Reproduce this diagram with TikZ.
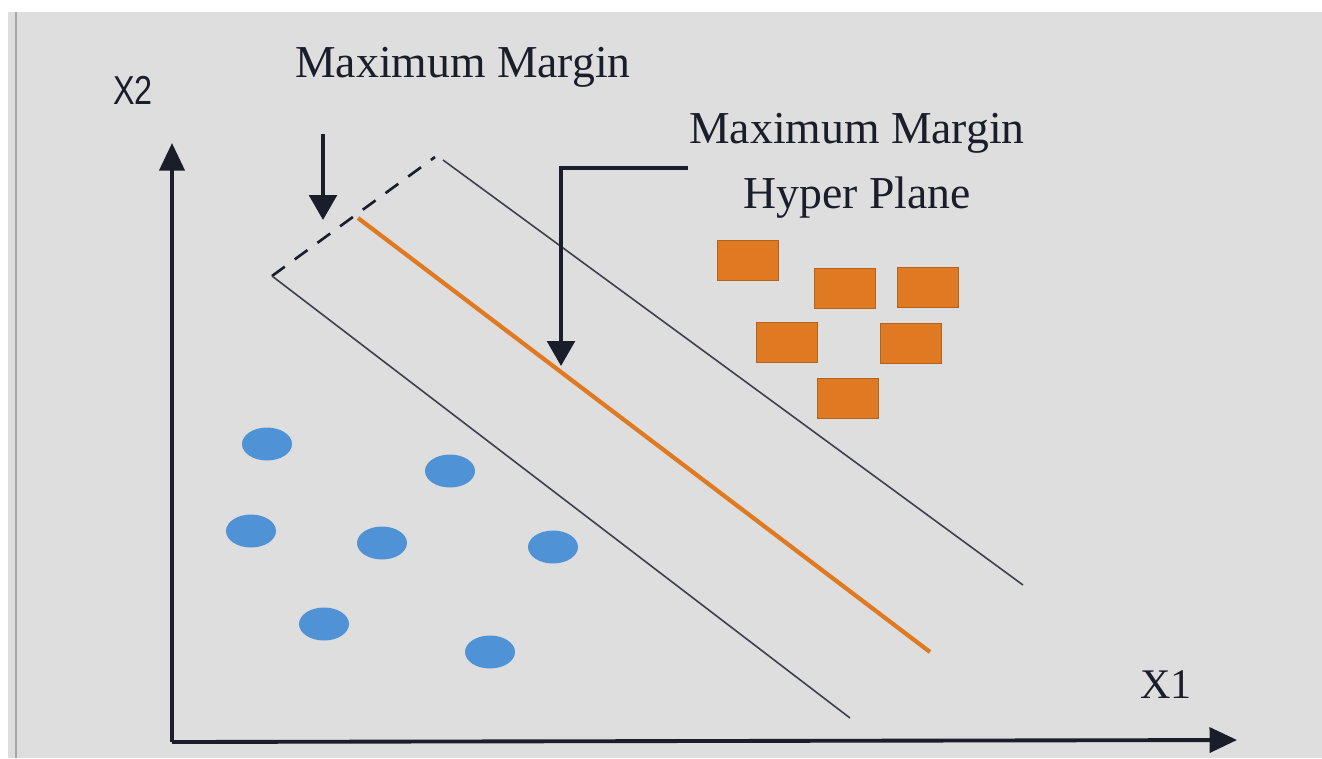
\documentclass[tikz,border=0pt]{standalone}
\usepackage{fontspec}
\setmainfont{Liberation Serif}
\newfontfamily\axfont{Liberation Sans}
\usetikzlibrary{arrows.meta,shapes.geometric}
\definecolor{bg}{HTML}{DEDEDE}
\definecolor{ink}{HTML}{1A1E2A}
\definecolor{org}{HTML}{E07A22}
\definecolor{blu}{HTML}{4F93D6}
\begin{document}
\begin{tikzpicture}[x=0.02cm,y=-0.02cm,
  sq/.style={draw=org!80!black, line width=0.4pt, fill=org, minimum width=1.22cm, minimum height=0.8cm, inner sep=0pt},
  dot/.style={ellipse, fill=blu, minimum width=1.0cm, minimum height=0.66cm, inner sep=0pt},
  lab/.style={font=\fontsize{26}{30}\selectfont, text=ink, inner sep=0pt},
  axis/.style={ink, line width=2.2pt, -{Triangle[length=0.55cm,width=0.5cm]}},
  marg/.style={ink!85, line width=0.9pt},
  pointer/.style={ink, line width=2.4pt, -{Triangle[length=0.5cm,width=0.55cm]}}]
% background
\fill[white] (0,0) rectangle (1322,758);
\fill[bg] (8,12) rectangle (1322,758);
\draw[gray!70, line width=0.8pt] (16,12) -- (16,758);
\useasboundingbox (0,0) rectangle (1322,758);
% axes
\coordinate (O) at (172,742);
\coordinate (Ytop) at (172,143);
\coordinate (Xend) at (1237,740);
\draw[axis] (O) -- (Ytop);
\draw[axis] (O) -- (Xend);
\node[font=\axfont\fontsize{23}{26}\selectfont, text=ink, xscale=0.8, inner sep=0pt] (x2) at (133,90) {X2};
\node[lab, font=\fontsize{24}{28}\selectfont] (x1) at (1166,685) {X1};
% margins
\coordinate (dA) at (272,276);
\coordinate (dB) at (435,157);
\coordinate (lowEnd) at (850,718);
\coordinate (upStart) at (443,160);
\coordinate (upEnd) at (1023,585);
\coordinate (hpA) at (358,218);
\coordinate (hpB) at (930,652);
\draw[ink, line width=1.5pt, dash pattern=on 9pt off 7pt] (dA) -- (dB);
\draw[marg] (dA) -- (lowEnd);
\draw[marg] (upStart) -- (upEnd);
\draw[org, line width=2.4pt] (hpA) -- (hpB);
% labels
\node[lab] (mm1) at (463,67) {Maximum Margin};
\node[lab] (mm2) at (857,133) {Maximum Margin};
\node[lab] (hp) at (857,198) {Hyper Plane};
% pointers
\coordinate (p1s) at (323,134);
\coordinate (p1e) at (323,220);
\draw[pointer] (p1s) -- (p1e);
\coordinate (p2s) at (688,168);
\coordinate (p2e) at (561,366);
\draw[pointer] (p2s) -| (p2e);
% squares
\node[sq] (s1) at (748,260) {};
\node[sq] (s2) at (845,288) {};
\node[sq] (s3) at (928,287) {};
\node[sq] (s4) at (787,342) {};
\node[sq] (s5) at (911,343) {};
\node[sq] (s6) at (848,398) {};
% dots
\node[dot] (c1) at (267,444) {};
\node[dot] (c2) at (450,471) {};
\node[dot] (c3) at (251,531) {};
\node[dot] (c4) at (382,543) {};
\node[dot] (c5) at (553,547) {};
\node[dot] (c6) at (324,624) {};
\node[dot] (c7) at (490,652) {};
\end{tikzpicture}
\end{document}
